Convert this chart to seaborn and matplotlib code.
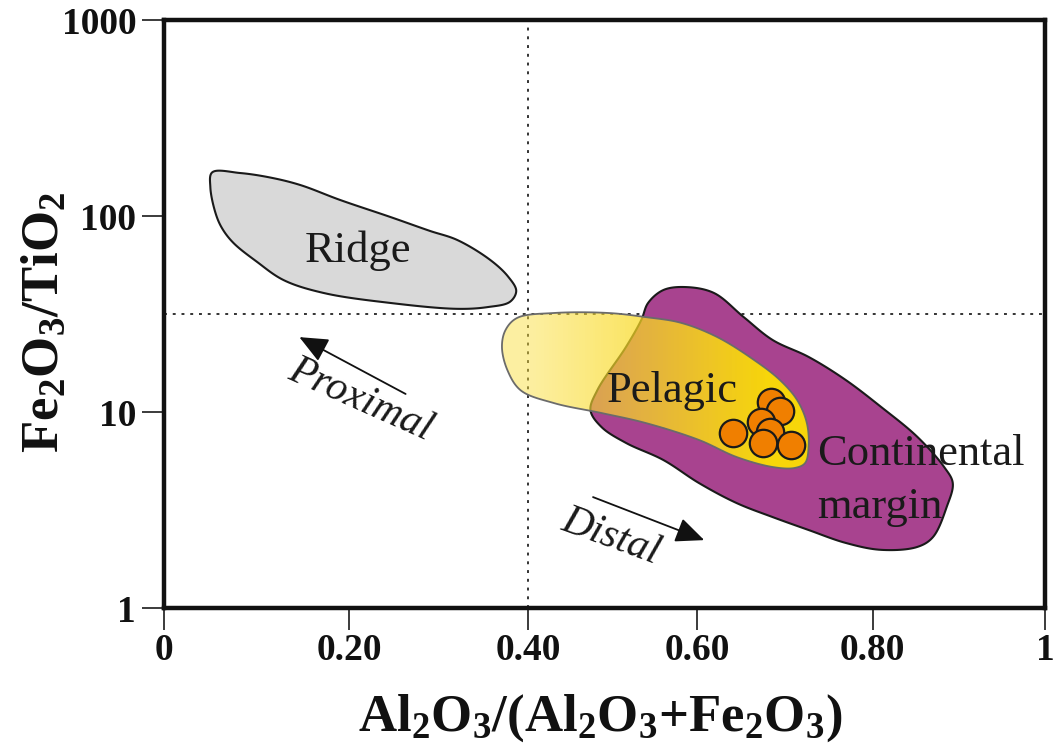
import numpy as np
import pandas as pd
import matplotlib
matplotlib.use("Agg")
import matplotlib.pyplot as plt
import seaborn as sns
from matplotlib.patches import Polygon
from matplotlib.colors import ListedColormap
from matplotlib.ticker import NullLocator

# ---------------- data ----------------
x_ticks = [0.0, 0.2, 0.4, 0.6, 0.8, 1.0]
x_tick_labels = ["0", "0.20", "0.40", "0.60", "0.80", "1"]
# hand-drawn axis: the printed ticks are not evenly spaced
x_tick_spacing = [0, 185, 363, 532, 707, 879]
y_ticks = [1, 10, 100, 1000]
y_tick_labels = ["1", "10", "100", "1000"]
h_line_y = 31.6
v_line_x = 0.4

ridge_x = [0.052, 0.082, 0.115, 0.147, 0.190, 0.246, 0.290, 0.321, 0.358, 0.378, 0.387,
           0.380, 0.355, 0.321, 0.246, 0.172, 0.129, 0.100, 0.075, 0.063, 0.056, 0.050]
ridge_y = [167.0, 165.7, 157.0, 143.9, 120.7, 98.8, 84.0, 75.4, 59.6, 49.0, 41.5,
           36.5, 34.3, 33.6, 36.0, 40.5, 47.1, 58.5, 72.8, 86.0, 102.0, 140.0]

margin_x = [0.586, 0.619, 0.653, 0.686, 0.727, 0.769, 0.810, 0.852, 0.883, 0.893,
            0.886, 0.870, 0.852, 0.810, 0.769, 0.727, 0.686, 0.645, 0.602, 0.560,
            0.516, 0.487, 0.474, 0.482, 0.516, 0.534, 0.542, 0.560]
margin_y = [43.4, 40.5, 30.5, 23.3, 19.1, 14.6, 10.6, 7.46, 5.24, 4.34,
            3.28, 2.30, 2.05, 1.98, 2.15, 2.50, 2.91, 3.43, 4.34, 5.69,
            6.95, 8.38, 10.2, 12.9, 21.5, 29.5, 36.0, 41.9]

pelagic_x = [0.375, 0.388, 0.431, 0.495, 0.539, 0.581, 0.623, 0.665, 0.694, 0.714,
             0.725, 0.727, 0.723, 0.711, 0.686, 0.645, 0.602, 0.539, 0.487, 0.431,
             0.392, 0.377, 0.371]
pelagic_y = [26.2, 30.2, 32.0, 32.0, 30.5, 28.5, 24.1, 18.4, 14.6, 11.5,
             8.79, 6.63, 5.49, 5.18, 5.24, 5.89, 7.20, 8.79, 9.88, 11.1,
             12.9, 16.4, 21.5]

samples_x = [0.6846, 0.6949, 0.6731, 0.6834, 0.6411, 0.6754, 0.7074]
samples_y = [11.25, 10.12, 8.89, 7.91, 7.81, 6.95, 6.79]

# ---------------- style ----------------
sns.set_theme(style="white")
plt.rcParams["font.family"] = ["Liberation Serif", "DejaVu Serif"]
plt.rcParams["mathtext.fontset"] = "custom"
plt.rcParams["mathtext.rm"] = "Liberation Serif"
plt.rcParams["mathtext.bf"] = "Liberation Serif:bold"
plt.rcParams["mathtext.it"] = "Liberation Serif:italic"
plt.rcParams["mathtext.default"] = "bf"

fig = plt.figure(figsize=(10.58, 7.49), dpi=100)
ax = fig.add_axes([164 / 1058, 1 - 608 / 749, (1045 - 164) / 1058, (608 - 20) / 749])


def fwd(x):
    return np.interp(np.asarray(x, dtype=float), x_ticks, x_tick_spacing)


def inv(p):
    return np.interp(np.asarray(p, dtype=float), x_tick_spacing, x_ticks)


ax.set_xscale("function", functions=(fwd, inv))
ax.set_yscale("log")
ax.set_xlim(0, 1)
ax.set_ylim(1, 1000)


def smooth_closed(xs, ys, n=14):
    # centripetal Catmull-Rom through the traced outline points
    P = np.column_stack([fwd(xs), 196.0 * np.log10(ys)])
    m = len(P)
    out = []
    for i in range(m):
        p0, p1, p2, p3 = P[(i - 1) % m], P[i], P[(i + 1) % m], P[(i + 2) % m]
        t0 = 0.0
        t1 = t0 + np.linalg.norm(p1 - p0) ** 0.5 + 1e-9
        t2 = t1 + np.linalg.norm(p2 - p1) ** 0.5 + 1e-9
        t3 = t2 + np.linalg.norm(p3 - p2) ** 0.5 + 1e-9
        for t in np.linspace(t1, t2, n, endpoint=False):
            a1 = (t1 - t) / (t1 - t0) * p0 + (t - t0) / (t1 - t0) * p1
            a2 = (t2 - t) / (t2 - t1) * p1 + (t - t1) / (t2 - t1) * p2
            a3 = (t3 - t) / (t3 - t2) * p2 + (t - t2) / (t3 - t2) * p3
            b1 = (t2 - t) / (t2 - t0) * a1 + (t - t0) / (t2 - t0) * a2
            b2 = (t3 - t) / (t3 - t1) * a2 + (t - t1) / (t3 - t1) * a3
            out.append((t2 - t) / (t2 - t1) * b1 + (t - t1) / (t2 - t1) * b2)
    out = np.array(out)
    return np.column_stack([inv(out[:, 0]), 10 ** (out[:, 1] / 196.0)])


# reference lines
ax.axhline(h_line_y, color="#333333", lw=1.4, ls=(0, (1.5, 3)), zorder=1)
ax.axvline(v_line_x, color="#333333", lw=1.4, ls=(0, (1.5, 3)), zorder=1)

# Ridge field
ridge = Polygon(smooth_closed(ridge_x, ridge_y), closed=True, facecolor="#D9D9D9",
                edgecolor="#1a1a1a", lw=1.5, zorder=2)
ax.add_patch(ridge)

# Continental margin field
margin = Polygon(smooth_closed(margin_x, margin_y), closed=True, facecolor="#A8438F",
                 edgecolor="#1a1a1a", lw=1.5, zorder=2)
ax.add_patch(margin)

# Pelagic field with a transparency gradient
pel_pts = smooth_closed(pelagic_x, pelagic_y)
pel_clip = Polygon(pel_pts, closed=True, facecolor="none", edgecolor="none", zorder=3)
ax.add_patch(pel_clip)
gx = np.linspace(0.36, 0.74, 120)
gy = np.logspace(np.log10(4.5), np.log10(34), 60)
GX, GY = np.meshgrid(gx, gy)
tval = np.clip((GX - 0.40) / 0.28, 0, 1)
ncol = 256
cols = np.zeros((ncol, 4))
cols[:, 0] = np.linspace(250, 247, ncol) / 255
cols[:, 1] = np.linspace(222, 214, ncol) / 255
cols[:, 2] = np.linspace(60, 10, ncol) / 255
cols[:, 3] = np.linspace(0.48, 1.0, ncol)
mesh = ax.pcolormesh(GX, GY, tval, cmap=ListedColormap(cols), vmin=0, vmax=1,
                     shading="auto", zorder=3)
mesh.set_clip_path(pel_clip)
pel_edge = Polygon(pel_pts, closed=True, facecolor="none", edgecolor="#6b6b6b",
                   lw=1.3, zorder=3.5)
ax.add_patch(pel_edge)

# samples
df = pd.DataFrame({"ratio_al": samples_x, "ratio_fe": samples_y})
sns.scatterplot(data=df, x="ratio_al", y="ratio_fe", ax=ax, s=390, color="#F07F00",
                edgecolor="#1a1a1a", linewidth=1.6, zorder=5, legend=False)

# labels inside
txt_kw = dict(color="#1a1a1a", fontsize=32, zorder=6, family="Liberation Serif")
ax.text(0.152, 58.2, "Ridge", ha="left", va="baseline", **txt_kw)
ax.text(0.4935, 11.25, "Pelagic", ha="left", va="baseline", **txt_kw)
ax.text(0.737, 5.37, "Continental", ha="left", va="baseline", **txt_kw)
ax.text(0.737, 2.88, "margin", ha="left", va="baseline", **txt_kw)
ax.text(0.212, 11.5, "Proximal", ha="center", va="center", rotation=-24,
        rotation_mode="anchor", style="italic", color="#1a1a1a", fontsize=30, zorder=6)
ax.text(0.498, 2.30, "Distal", ha="center", va="center", rotation=-20,
        rotation_mode="anchor", style="italic", color="#1a1a1a", fontsize=30, zorder=6)

arrow_kw = dict(arrowstyle="-|>,head_length=0.8,head_width=0.35", color="#111111",
                lw=1.3, mutation_scale=22, shrinkA=0, shrinkB=0)
ax.annotate("", xy=(0.146, 24.1), xytext=(0.263, 12.36), arrowprops=arrow_kw, zorder=6)
ax.annotate("", xy=(0.608, 2.22), xytext=(0.477, 3.68), arrowprops=arrow_kw, zorder=6)

# axes styling
ax.set_xticks(x_ticks, labels=x_tick_labels)
ax.set_yticks(y_ticks, labels=y_tick_labels)
ax.xaxis.set_minor_locator(NullLocator())
ax.yaxis.set_minor_locator(NullLocator())
ax.tick_params(axis="both", which="major", direction="out", length=16, width=1.2,
               color="#1a1a1a", labelcolor="#111111", labelsize=27,
               bottom=True, left=True, top=False, right=False)
ax.tick_params(axis="x", pad=2)
ax.tick_params(axis="y", pad=4)
for lab in ax.get_xticklabels() + ax.get_yticklabels():
    lab.set_fontweight("bold")
for sp in ax.spines.values():
    sp.set_visible(True)
    sp.set_color("#111111")
    sp.set_linewidth(3.2)
ax.grid(False)
ax.set_facecolor("white")

ax.set_xlabel("Al$_2$O$_3$/(Al$_2$O$_3$+Fe$_2$O$_3$)", fontsize=38, fontweight="bold",
              color="#111111", va="center")
ax.set_ylabel("Fe$_2$O$_3$/TiO$_2$", fontsize=38, fontweight="bold", color="#111111",
              va="center", ha="center")
ax.xaxis.set_label_coords(0.495, -0.187)
ax.yaxis.set_label_coords(-0.135, 0.486)

fig.savefig("out.png", dpi=100, facecolor="white")
